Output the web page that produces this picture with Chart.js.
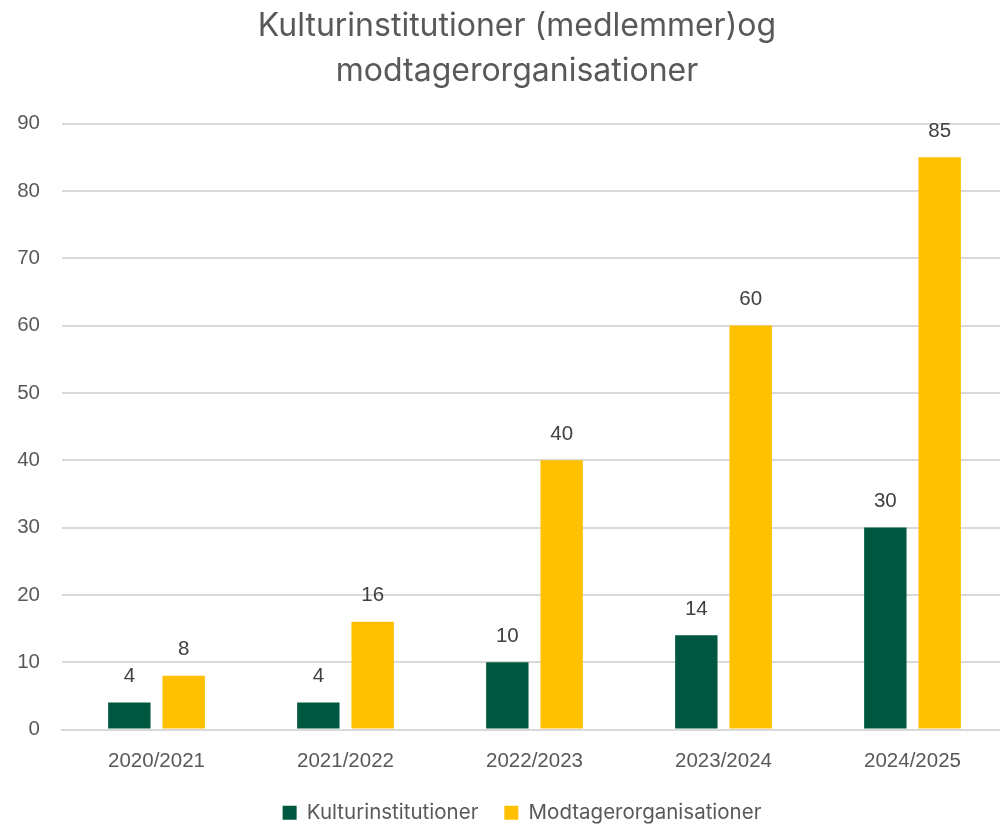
<!DOCTYPE html>
<html>
<head>
<meta charset="utf-8">
<script src="https://cdn.jsdelivr.net/npm/chart.js@4.4.1/dist/chart.umd.min.js"></script>
<style>
  html, body { margin: 0; padding: 0; background: #fff; }
  #wrap { width: 1000px; height: 825px; position: relative; }
</style>
</head>
<body>
<div id="wrap"><canvas id="chart"></canvas></div>
<script>
const categories = ['2020/2021', '2021/2022', '2022/2023', '2023/2024', '2024/2025'];
const kulturValues = [4, 4, 10, 14, 30];
const modtagerValues = [8, 16, 40, 60, 85];
const seriesNames = ['Kulturinstitutioner', 'Modtagerorganisationer'];
const titleLines = ['Kulturinstitutioner (medlemmer)og', 'modtagerorganisationer'];

const textColor = '#595959';
const axisFont = '"Liberation Sans", Arial, sans-serif';
const titleFont = 'Inter, "Noto Sans", sans-serif';

// simple value labels above each bar
const barLabels = {
    id: 'barLabels',
    afterDatasetsDraw(chart) {
        const ctx = chart.ctx;
        ctx.save();
        ctx.font = '20.5px ' + axisFont;
        ctx.fillStyle = '#404040';
        ctx.textAlign = 'center';
        ctx.textBaseline = 'middle';
        chart.data.datasets.forEach((ds, i) => {
            const meta = chart.getDatasetMeta(i);
            meta.data.forEach((bar, j) => {
                ctx.fillText(String(ds.data[j]), bar.x, bar.y - 26);
            });
        });
        ctx.restore();
    }
};

// the original's plot runs a little past the right edge, and its title and
// legend sit slightly right of the canvas centre
const nudgeBoxes = {
    id: 'nudgeBoxes',
    afterLayout(chart) {
        const x = chart.scales.x;
        if (x) {
            x.right += 7;
            x.width += 7;
            x.configure();
        }
        if (chart.titleBlock) chart.titleBlock.left += 34;
        if (chart.legend) chart.legend.left += 44;
    }
};

new Chart(document.getElementById('chart'), {
    type: 'bar',
    data: {
        labels: categories,
        datasets: [
            {
                label: seriesNames[0],
                data: kulturValues,
                backgroundColor: '#00573F',
                categoryPercentage: 0.575,
                barPercentage: 0.78
            },
            {
                label: seriesNames[1],
                data: modtagerValues,
                backgroundColor: '#FFC000',
                categoryPercentage: 0.575,
                barPercentage: 0.78
            }
        ]
    },
    plugins: [barLabels, nudgeBoxes],
    options: {
        responsive: true,
        maintainAspectRatio: false,
        animation: false,
        layout: { padding: { left: 0, right: 0, top: 4, bottom: -8 } },
        plugins: {
            title: {
                display: true,
                text: titleLines,
                color: textColor,
                font: { family: titleFont, size: 32, weight: 'normal', lineHeight: 1.4 },
                padding: { top: 0, bottom: 30 }
            },
            legend: {
                position: 'bottom',
                labels: {
                    color: textColor,
                    font: { family: titleFont, size: 20.5 },
                    boxWidth: 14,
                    boxHeight: 14,
                    padding: 26
                }
            },
            tooltip: { enabled: false }
        },
        scales: {
            x: {
                grid: { display: false },
                border: { color: '#d9d9d9', width: 2 },
                ticks: {
                    color: textColor,
                    font: { family: axisFont, size: 20.5 },
                    padding: 12
                },
                afterFit: (scale) => { scale.height = 47; }
            },
            y: {
                min: 0,
                max: 90,
                ticks: {
                    stepSize: 10,
                    color: textColor,
                    font: { family: axisFont, size: 20.5 },
                    padding: 22
                },
                grid: { color: '#d9d9d9', lineWidth: 2, drawTicks: false },
                border: { display: false },
                afterFit: (scale) => { scale.width = 62; }
            }
        }
    }
});
</script>
</body>
</html>
